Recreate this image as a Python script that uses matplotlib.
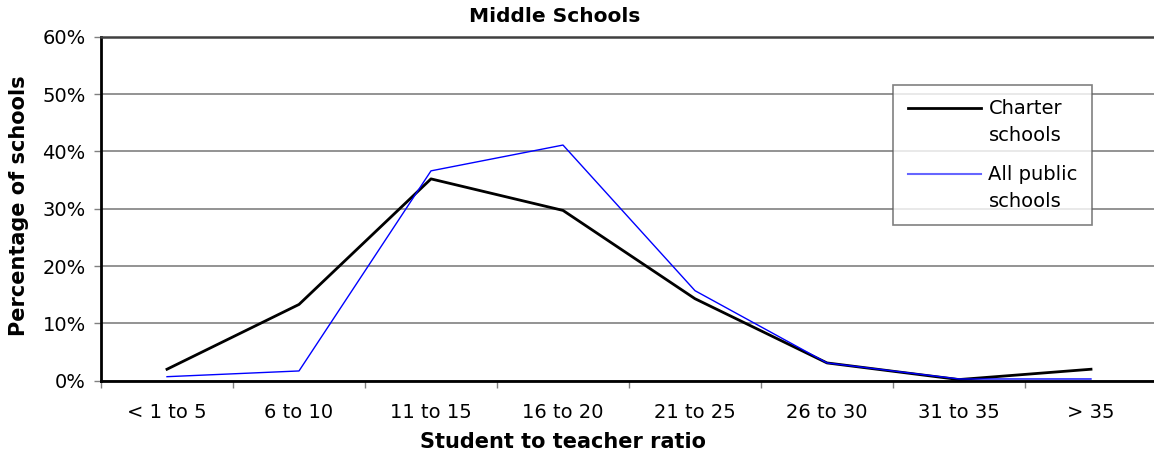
import numpy as np
import matplotlib
matplotlib.use("Agg")
import matplotlib.pyplot as plt
from matplotlib.legend_handler import HandlerLine2D
from matplotlib.ticker import FixedLocator, FuncFormatter

categories = ["< 1 to 5", "6 to 10", "11 to 15", "16 to 20", "21 to 25",
              "26 to 30", "31 to 35", "> 35"]
charter = [2.0, 13.3, 35.2, 29.7, 14.3, 3.1, 0.2, 2.0]
public = [0.7, 1.7, 36.6, 41.1, 15.7, 3.1, 0.3, 0.3]
yticks = [0, 10, 20, 30, 40, 50, 60]

plt.rcParams['font.family'] = ['DejaVu Sans']

W, H = 1154, 457
fig = plt.figure(figsize=(W / 100, H / 100), dpi=100)
left, right, top, bottom = 101, 1157, 36.7, 380.7
ax = fig.add_axes([left / W, 1 - bottom / H, (right - left) / W, (bottom - top) / H])

x = np.arange(len(categories))
ax.plot(x, charter, color='black', lw=2, label='Charter\nschools', zorder=3)
ax.plot(x, public, color='#0000ff', lw=1, label='All public\nschools', zorder=4)

ax.set_xlim(-0.5, len(categories) - 0.5)
ax.set_ylim(0, 60)
ax.set_yticks(yticks)
ax.yaxis.set_major_formatter(FuncFormatter(lambda v, p: f"{int(v)}%"))
ax.yaxis.grid(True, color='#808080', lw=1.2)
ax.set_axisbelow(True)

ax.xaxis.set_major_locator(FixedLocator(np.arange(len(categories) + 1) - 0.5))
ax.xaxis.set_major_formatter(FuncFormatter(lambda v, p: ""))
ax.xaxis.set_minor_locator(FixedLocator(x))
ax.set_xticklabels(categories, minor=True)
ax.tick_params(axis='x', which='minor', length=0, labelsize=14, pad=16)
ax.tick_params(axis='x', which='major', length=5, color='#808080', width=1)
ax.tick_params(axis='y', length=5, color='#808080', width=1, labelsize=14, pad=6)

for s in ['left', 'bottom']:
    ax.spines[s].set_color('black')
    ax.spines[s].set_linewidth(2)
ax.spines['top'].set_color('#404040')
ax.spines['top'].set_linewidth(1.8)
ax.spines['right'].set_visible(False)


class UpHandler(HandlerLine2D):
    def create_artists(self, legend, orig_handle, xdescent, ydescent, width,
                       height, fontsize, trans):
        arts = super().create_artists(legend, orig_handle, xdescent, ydescent,
                                      width, height, fontsize, trans)
        for a in arts:
            a.set_ydata(np.asarray(a.get_ydata()) + 0.75 * fontsize)
        return arts


leg = ax.legend(loc='upper left', bbox_to_anchor=(0.75, 0.86), borderaxespad=0,
                fontsize=14, frameon=True, fancybox=False, edgecolor='#606060',
                handlelength=3.8, handletextpad=0.36, labelspacing=1.05,
                borderpad=0.75, handler_map={plt.Line2D: UpHandler()})
leg.get_frame().set_linewidth(1.2)
for t in leg.get_texts():
    t.set_linespacing(1.5)
lines = leg.get_lines()
lines[0].set_linewidth(2)
lines[1].set_linewidth(1.5)
lines[1].set_color('#6666ff')

fig.text(555 / W, 1 - 17 / H, "Middle Schools", ha='center', va='center',
         fontsize=14.5, fontweight='bold')
fig.text(563 / W, 1 - 442 / H, "Student to teacher ratio", ha='center',
         va='center', fontsize=15, fontweight='bold')
fig.text(19 / W, 1 - 206 / H, "Percentage of schools", ha='center',
         va='center', rotation=90, fontsize=15, fontweight='bold')

fig.savefig("out.png", dpi=100)
